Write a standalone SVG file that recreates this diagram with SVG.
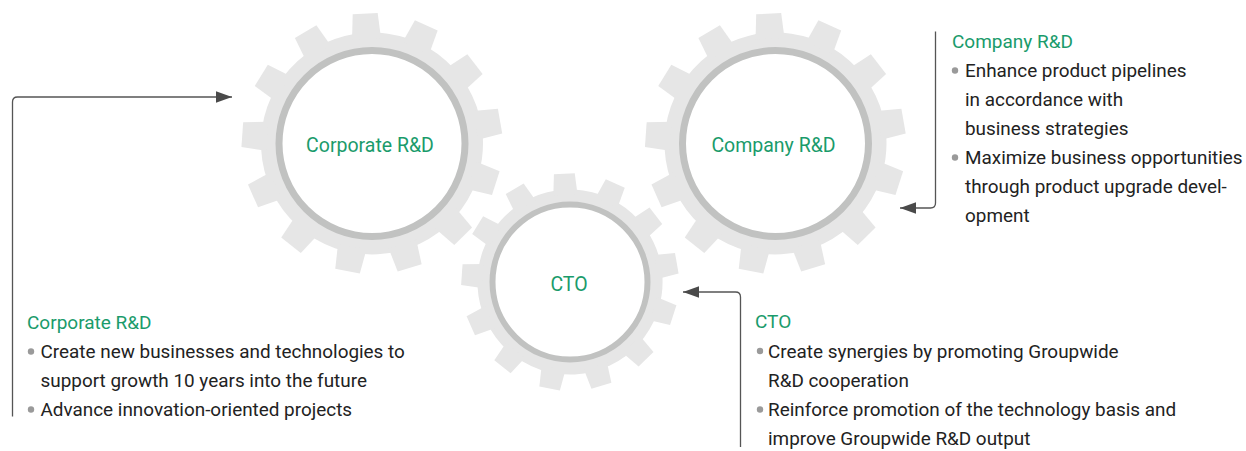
<svg xmlns="http://www.w3.org/2000/svg" xmlns:xlink="http://www.w3.org/1999/xlink" width="1246" height="451" viewBox="0 0 1246 451">
<style>
.body{fill:#e6e6e6}
.ring{fill:#ffffff;stroke:#c1c2c1}
.label{font-family:Roboto,"Noto Sans",sans-serif;font-size:19.5px;fill:#1a9b6b;text-anchor:middle}
.head{font-family:Roboto,"Noto Sans",sans-serif;font-size:19px;fill:#1a9b6b}
.txt{font-family:Roboto,"Noto Sans",sans-serif;font-size:18.9px;fill:#222222}
.dot{fill:#9a9a9a}
.conn{fill:none;stroke:#555555;stroke-width:1.3}
</style>
<defs>
<polygon id="tooth" points="-12.5,-130 12.5,-130 14.5,-105 -14.5,-105"/>
<g id="gearBody" class="body">
<circle r="111"/>
<use xlink:href="#tooth"/>
<use xlink:href="#tooth" transform="rotate(27.692)"/>
<use xlink:href="#tooth" transform="rotate(55.385)"/>
<use xlink:href="#tooth" transform="rotate(83.077)"/>
<use xlink:href="#tooth" transform="rotate(110.769)"/>
<use xlink:href="#tooth" transform="rotate(138.462)"/>
<use xlink:href="#tooth" transform="rotate(166.154)"/>
<use xlink:href="#tooth" transform="rotate(193.846)"/>
<use xlink:href="#tooth" transform="rotate(221.538)"/>
<use xlink:href="#tooth" transform="rotate(249.231)"/>
<use xlink:href="#tooth" transform="rotate(276.923)"/>
<use xlink:href="#tooth" transform="rotate(304.615)"/>
<use xlink:href="#tooth" transform="rotate(332.308)"/>
</g>
<marker id="arrow" viewBox="0 0 16 11.4" refX="16" refY="5.7" markerWidth="16" markerHeight="11.4" markerUnits="userSpaceOnUse" orient="auto">
<path d="M0,0 L16,5.7 L0,11.4 Z" fill="#4a4a4a"/>
</marker>
</defs>

<g id="gear-corporate">
<use xlink:href="#gearBody" transform="translate(372,143.5) rotate(-3)"/>
<circle class="ring" cx="372" cy="143.5" r="93" stroke-width="7"/>
<text class="label" x="370" y="152">Corporate R&amp;D</text>
</g>

<g id="gear-company">
<use xlink:href="#gearBody" transform="translate(775.5,143.5) rotate(-3)"/>
<circle class="ring" cx="775.5" cy="143.5" r="93" stroke-width="7"/>
<text class="label" x="773.5" y="152">Company R&amp;D</text>
</g>

<g id="gear-cto">
<use xlink:href="#gearBody" transform="translate(570,282) scale(0.834) rotate(-3)"/>
<circle class="ring" cx="570" cy="282" r="77.5" stroke-width="6"/>
<text class="label" x="569" y="291">CTO</text>
</g>

<g id="connectors">
<path class="conn" d="M12.5,416.5 V102 Q12.5,97 17.5,97 H232" marker-end="url(#arrow)"/>
<path class="conn" d="M935.5,31.5 V203 Q935.5,208 930.5,208 H900" marker-end="url(#arrow)"/>
<path class="conn" d="M740.5,447 V297 Q740.5,292 735.5,292 H683" marker-end="url(#arrow)"/>
</g>

<g id="text-corporate">
<text class="head" x="27" y="329">Corporate R&amp;D</text>
<circle class="dot" cx="31" cy="351.5" r="3.2"/>
<text class="txt" x="40.5" y="358">Create new businesses and technologies to</text>
<text class="txt" x="40.5" y="387">support growth 10 years into the future</text>
<circle class="dot" cx="31" cy="409.5" r="3.2"/>
<text class="txt" x="40.5" y="416">Advance innovation-oriented projects</text>
</g>

<g id="text-cto">
<text class="head" x="755" y="328">CTO</text>
<circle class="dot" cx="760" cy="351" r="3.2"/>
<text class="txt" x="768" y="357.5">Create synergies by promoting Groupwide</text>
<text class="txt" x="768" y="387">R&amp;D cooperation</text>
<circle class="dot" cx="760" cy="409.5" r="3.2"/>
<text class="txt" x="768" y="416">Reinforce promotion of the technology basis and</text>
<text class="txt" x="768" y="445">improve Groupwide R&amp;D output</text>
</g>

<g id="text-company">
<text class="head" x="952" y="48">Company R&amp;D</text>
<circle class="dot" cx="955" cy="70.5" r="3.2"/>
<text class="txt" x="965" y="77">Enhance product pipelines</text>
<text class="txt" x="965" y="106">in accordance with</text>
<text class="txt" x="965" y="135">business strategies</text>
<circle class="dot" cx="955" cy="157.5" r="3.2"/>
<text class="txt" x="965" y="164">Maximize business opportunities</text>
<text class="txt" x="965" y="193">through product upgrade devel-</text>
<text class="txt" x="965" y="222">opment</text>
</g>
</svg>
